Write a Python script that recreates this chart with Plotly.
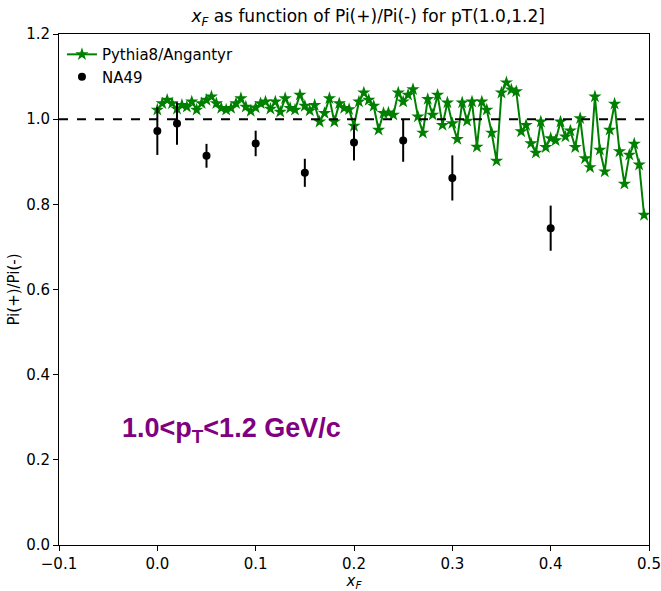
import plotly.graph_objects as go

# Pythia8/Angantyr ratio, xF bins
pythia_x = [round(0.005 * i, 3) for i in range(100)]
pythia_y = [
    1.022, 1.037, 1.045, 1.037, 1.024, 1.033, 1.029, 1.041, 1.022, 1.037,
    1.045, 1.053, 1.037, 1.026, 1.022, 1.026, 1.037, 1.049, 1.029, 1.019,
    1.027, 1.037, 1.041, 1.024, 1.041, 1.017, 1.049, 1.026, 1.022, 1.057,
    1.031, 1.020, 1.033, 0.994, 1.014, 1.049, 0.994, 1.037, 1.026, 1.023,
    0.984, 1.041, 1.062, 1.045, 1.031, 0.975, 1.014, 1.015, 1.010, 1.062,
    1.041, 1.057, 1.070, 1.006, 0.968, 1.047, 1.010, 1.057, 0.986, 1.039,
    0.990, 0.953, 1.039, 0.996, 1.041, 0.935, 1.041, 1.022, 0.968, 0.902,
    1.062, 1.086, 1.069, 1.065, 0.971, 0.986, 0.943, 0.921, 0.994, 0.934,
    0.955, 0.950, 0.994, 0.959, 0.973, 0.934, 1.002, 0.908, 0.887, 1.053,
    0.928, 0.877, 0.975, 1.036, 0.924, 0.848, 0.916, 0.942, 0.893, 0.775,
]

# NA49 data
na49_x = [0.0, 0.02, 0.05, 0.1, 0.15, 0.2, 0.25, 0.3, 0.4]
na49_y = [0.972, 0.990, 0.914, 0.943, 0.874, 0.945, 0.950, 0.862, 0.744]
na49_err = [0.056, 0.050, 0.028, 0.030, 0.033, 0.042, 0.050, 0.053, 0.053]

x_ticks = [-0.1, 0.0, 0.1, 0.2, 0.3, 0.4, 0.5]
y_ticks = [0.0, 0.2, 0.4, 0.6, 0.8, 1.0, 1.2]

font = "DejaVu Sans, Liberation Sans, sans-serif"

fig = go.Figure()

fig.add_shape(type="line", xref="paper", yref="y", x0=0, x1=1, y0=1.0, y1=1.0,
              line=dict(color="black", width=2, dash="dash"))

fig.add_trace(go.Scatter(
    x=pythia_x, y=pythia_y, mode="lines+markers", name="Pythia8/Angantyr",
    line=dict(color="#008000", width=2),
    marker=dict(symbol="star", size=10, color="#008000"),
))

fig.add_trace(go.Scatter(
    x=na49_x, y=na49_y, mode="markers", name="NA49",
    marker=dict(symbol="circle", size=8, color="black"),
    error_y=dict(type="data", array=na49_err, color="black", thickness=2, width=0),
))

fig.add_annotation(
    x=-0.038, y=0.27, xref="x", yref="y", xanchor="left", yanchor="middle",
    text="<b>1.0<p<sub>T</sub><1.2 GeV/c</b>", showarrow=False,
    font=dict(family="Liberation Sans, Arial, sans-serif", size=27, color="#800080"),
)

axis_common = dict(
    showgrid=False, zeroline=False, showline=True, linecolor="black", linewidth=1,
    mirror=True, ticks="outside", ticklen=5, tickcolor="black", automargin=False,
    tickfont=dict(family=font, size=15, color="black"),
)

fig.update_xaxes(range=[-0.1, 0.5], tickvals=x_ticks,
                 ticktext=["\u22120.1" if v < 0 else f"{v:.1f}" for v in x_ticks],
                 title=dict(text="<i>x</i><sub><i>F</i></sub>", font=dict(family=font, size=15, color="black"), standoff=4),
                 **axis_common)
fig.update_yaxes(range=[0.0, 1.2], tickvals=y_ticks, ticktext=[f"{v:.1f}" for v in y_ticks],
                 title=dict(text="Pi(+)/Pi(-)", font=dict(family=font, size=15, color="black"), standoff=2),
                 **axis_common)

fig.update_layout(
    width=661, height=591,
    margin=dict(l=59, r=12, t=34, b=46),
    plot_bgcolor="white", paper_bgcolor="white",
    title=dict(text="<i>x</i><sub><i>F</i></sub> as function of Pi(+)/Pi(-) for pT(1.0,1.2]",
               x=0.557, xanchor="center", y=0.972, yanchor="middle",
               font=dict(family=font, size=17, color="black")),
    legend=dict(x=0.005, y=0.992, xanchor="left", yanchor="top",
                bgcolor="rgba(0,0,0,0)", borderwidth=0,
                font=dict(family=font, size=15, color="black"), tracegroupgap=0),
    showlegend=True,
)

fig.write_html("out.html")
